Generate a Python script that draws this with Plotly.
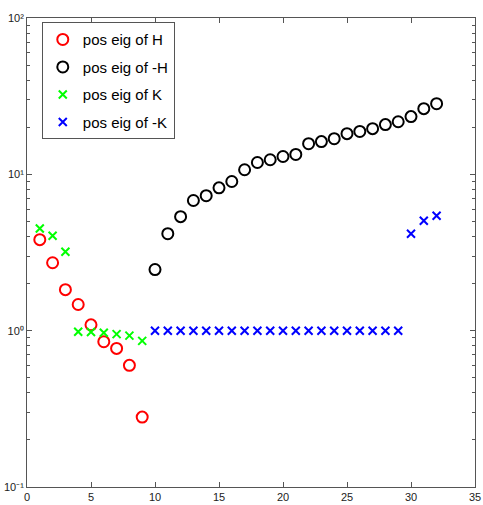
import plotly.graph_objects as go

x_H = [1, 2, 3, 4, 5, 6, 7, 8, 9]
pos_H = [3.82, 2.72, 1.83, 1.47, 1.09, 0.85, 0.77, 0.60, 0.28]

x_negH = list(range(10, 33))
pos_negH = [2.46, 4.17, 5.36, 6.8, 7.3, 8.2, 9.0, 10.7, 11.9, 12.4, 13.0, 13.4,
            15.7, 16.2, 16.9, 18.2, 18.8, 19.6, 20.8, 21.7, 23.4, 26.3, 28.3]

x_K = [1, 2, 3, 4, 5, 6, 7, 8, 9]
pos_K = [4.5, 4.05, 3.2, 0.985, 0.98, 0.97, 0.95, 0.93, 0.86]

x_negK = list(range(10, 30)) + [30, 31, 32]
pos_negK = [1.0] * 20 + [4.17, 5.05, 5.44]

names = ["pos eig of H", "pos eig of -H", "pos eig of K", "pos eig of -K"]

x_ticks = [0, 5, 10, 15, 20, 25, 30, 35]
y_decades = [0.1, 1, 10, 100]
y_decade_labels = ["10\u207b\u00b9", "10\u2070", "10\u00b9", "10\u00b2"]

# minor tick positions (2..9 within each decade)
y_minor = [d * m for d in y_decades[:-1] for m in range(2, 10)]

fig = go.Figure()
fig.add_trace(go.Scatter(x=x_H, y=pos_H, mode="markers", name=names[0], legendgroup="a",
                         marker=dict(symbol="circle-open", size=11, color="#ff0000", line=dict(width=2, color="#ff0000"))))
fig.add_trace(go.Scatter(x=x_negH, y=pos_negH, mode="markers", name=names[1], legendgroup="b",
                         marker=dict(symbol="circle-open", size=11, color="#000000", line=dict(width=2, color="#000000"))))
fig.add_trace(go.Scatter(x=x_K, y=pos_K, mode="markers", name=names[2], legendgroup="c",
                         marker=dict(symbol="x-thin-open", size=8, color="#00ff00", line=dict(width=2, color="#00ff00"))))
fig.add_trace(go.Scatter(x=x_negK, y=pos_negK, mode="markers", name=names[3], legendgroup="d",
                         marker=dict(symbol="x-thin-open", size=8, color="#0000ff", line=dict(width=2, color="#0000ff"))))
# invisible trace to activate the minor-tick axis
fig.add_trace(go.Scatter(x=[None], y=[None], yaxis="y2", showlegend=False, hoverinfo="skip"))

axcol = "#555555"
tickfont = dict(family="Liberation Sans, Arial", size=11, color="#222222")

fig.update_layout(
    width=483, height=505,
    margin=dict(l=27, r=8, t=18, b=18),
    paper_bgcolor="white", plot_bgcolor="white",
    font=dict(family="Liberation Sans, Arial", color="#000000"),
    xaxis=dict(range=[0, 35], tickmode="array", tickvals=x_ticks, ticklen=5,
               showgrid=False, zeroline=False, showline=True, linecolor=axcol, linewidth=1,
               mirror="ticks", ticks="inside", tickcolor=axcol, tickfont=tickfont, automargin=False),
    yaxis=dict(type="log", range=[-1, 2], tickmode="array", tickvals=y_decades, ticktext=y_decade_labels,
               ticklen=5, showgrid=False, zeroline=False, showline=True, linecolor=axcol, linewidth=1,
               mirror="ticks", ticks="inside", tickcolor=axcol, tickfont=tickfont, automargin=False),
    yaxis2=dict(type="log", range=[-1, 2], overlaying="y", side="left", tickmode="array",
                tickvals=y_minor, showticklabels=False, ticklen=3, ticks="inside", tickcolor=axcol,
                showgrid=False, zeroline=False, showline=False, mirror="ticks", automargin=False),
    legend=dict(x=0.033, y=0.991, xanchor="left", yanchor="top",
                bordercolor=axcol, borderwidth=1, bgcolor="white",
                font=dict(family="Liberation Sans, Arial", size=15, color="#000000"),
                traceorder="grouped", tracegroupgap=5, itemwidth=30),
    showlegend=True,
)

fig.write_html("out.html")
